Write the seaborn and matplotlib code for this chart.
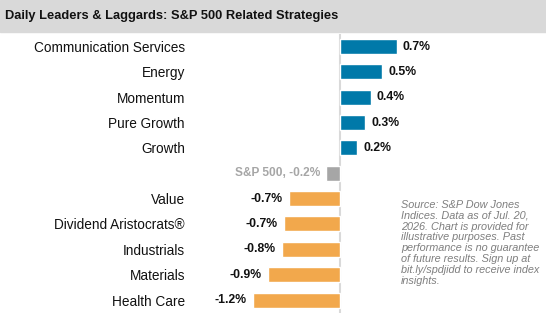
import numpy as np
import pandas as pd
import seaborn as sns
import matplotlib.pyplot as plt
from matplotlib.patches import Rectangle

sns.set_theme(style='white')
plt.rcParams['font.family'] = ['Liberation Sans', 'DejaVu Sans']

# datos
categorias = ['Communication Services', 'Energy', 'Momentum', 'Pure Growth', 'Growth',
              'S&P 500', 'Value', 'Dividend Aristocrats®', 'Industrials', 'Materials',
              'Health Care']
valores = [0.70, 0.52, 0.38, 0.31, 0.21, -0.17, -0.63, -0.69, -0.72, -0.89, -1.08]
etiquetas = ['0.7%', '0.5%', '0.4%', '0.3%', '0.2%', 'S&P 500, -0.2%',
             '-0.7%', '-0.7%', '-0.8%', '-0.9%', '-1.2%']

azul = '#0079A9'
naranja = '#F2A84C'
gris = '#A6A6A6'
colores = [gris if c == 'S&P 500' else (azul if v > 0 else naranja)
           for c, v in zip(categorias, valores)]

df = pd.DataFrame({'categoria': categorias, 'valor': valores})

W, H = 546, 318
fig = plt.figure(figsize=(W / 100, H / 100), dpi=100)
ax = fig.add_axes([190 / W, (H - 312.7) / H, 270 / W, 278.85 / H])

sns.barplot(data=df, x='valor', y='categoria', hue='categoria', palette=colores,
            orient='h', width=0.59, legend=False, saturation=1, ax=ax)

ax.set_xlim(-150 / 81, 120 / 81)
ax.set_ylim(10.5, -0.5)
ax.set_xlabel('')
ax.set_ylabel('')
ax.set_xticks([])
ax.set_yticks(range(len(categorias)))
ax.set_yticklabels([c if c != 'S&P 500' else '' for c in categorias], fontsize=9.8, color='#111111')
ax.tick_params(axis='y', length=0, pad=3.6)
for s in ['top', 'right', 'bottom', 'left']:
    ax.spines[s].set_visible(False)
ax.axvline(0, color='#D9D9D9', lw=1.5, zorder=0)

off = 6 / 81
for i, (v, t, c) in enumerate(zip(valores, etiquetas, categorias)):
    if c == 'S&P 500':
        ax.text(v - off, i, t, ha='right', va='center', fontsize=8.6,
                fontweight='bold', color=gris)
    elif v > 0:
        ax.text(v + off, i, t, ha='left', va='center', fontsize=8.8,
                fontweight='bold', color='#111111')
    else:
        ax.text(v - off, i, t, ha='right', va='center', fontsize=8.8,
                fontweight='bold', color='#111111')

# barra del título
fig.patches.append(Rectangle((0, 1 - 32 / H), 1, 32 / H, transform=fig.transFigure,
                             color='#D9D9D9', zorder=0))
fig.text(5 / W, 1 - 16 / H, 'Daily Leaders & Laggards: S&P 500 Related Strategies',
         ha='left', va='center', fontsize=9.3, fontweight='bold', color='#111111')

fuente = ('Source: S&P Dow Jones\nIndices. Data as of Jul. 20,\n2026. Chart is provided for\n'
          'illustrative purposes. Past\nperformance is no guarantee\nof future results. Sign up at\n'
          'bit.ly/spdjidd to receive index\ninsights.')
fig.text(401 / W, 1 - 200 / H, fuente, ha='left', va='top', fontsize=7.8,
         style='italic', color='#7F7F7F', linespacing=1.1)

fig.savefig('out.png', dpi=100)
